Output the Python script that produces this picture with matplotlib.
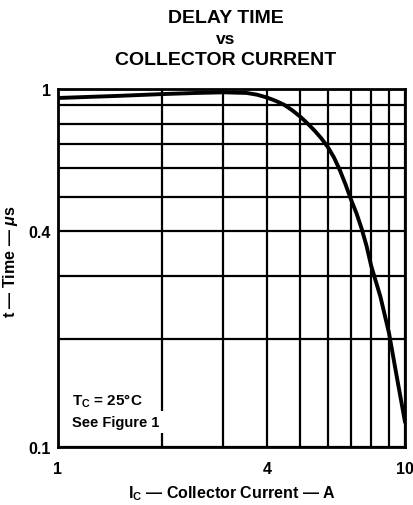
from matplotlib import pyplot as plt
from matplotlib.ticker import FixedLocator, NullFormatter, NullLocator

# curve (collector current in A, delay time in us)
current = [1.0, 1.5, 2.0, 2.5, 3.0, 3.5, 3.75, 4.0, 4.25, 4.5, 4.75, 5.0, 5.25, 5.5, 5.75, 6.0,
           6.25, 6.5, 6.75, 7.0, 7.25, 7.5, 7.75, 8.0, 8.5, 9.0, 9.5, 10.0]
delay = [0.944, 0.957, 0.968, 0.975, 0.979, 0.975, 0.964, 0.947, 0.926, 0.902, 0.870, 0.836, 0.800, 0.764,
         0.727, 0.688, 0.643, 0.592, 0.540, 0.490, 0.450, 0.408, 0.365, 0.320, 0.263, 0.208, 0.155, 0.118]

x_grid = [1, 2, 3, 4, 5, 6, 7, 8, 9, 10]
y_grid = [0.1, 0.2, 0.3, 0.4, 0.5, 0.6, 0.7, 0.8, 0.9, 1.0]
x_labels = {1: "1", 4: "4", 10: "10"}
y_labels = {0.1: "0.1", 0.4: "0.4", 1.0: "1"}

plt.rcParams["font.family"] = ["Liberation Sans", "DejaVu Sans"]
plt.rcParams["font.weight"] = "bold"
plt.rcParams["mathtext.fontset"] = "custom"
plt.rcParams["mathtext.rm"] = "Liberation Sans:bold"
plt.rcParams["mathtext.it"] = "Liberation Sans:bold:italic"

fig = plt.figure(figsize=(4.14, 5.06), dpi=100)
ax = fig.add_axes([0.140, 0.1146, 0.838, 0.7075])

ax.set_xscale("log")
ax.set_yscale("log")
ax.set_xlim(1, 10)
ax.set_ylim(0.1, 1)

for xv in x_grid:
    ax.axvline(xv, color="black", lw=1.6, zorder=1)
for yv in y_grid:
    ax.axhline(yv, color="black", lw=1.6, zorder=1)

ax.plot(current, delay, color="black", lw=2.8, zorder=3, solid_joinstyle="round")

ax.xaxis.set_major_locator(FixedLocator(list(x_labels)))
ax.xaxis.set_minor_locator(NullLocator())
ax.xaxis.set_minor_formatter(NullFormatter())
ax.set_xticklabels(list(x_labels.values()))
ax.yaxis.set_major_locator(FixedLocator(list(y_labels)))
ax.yaxis.set_minor_locator(NullLocator())
ax.yaxis.set_minor_formatter(NullFormatter())
ax.set_yticklabels(list(y_labels.values()))
ax.tick_params(axis="x", length=0, labelsize=11.5, pad=10)
ax.tick_params(axis="y", length=0, labelsize=11.5, pad=5)
for lab in ax.get_xticklabels() + ax.get_yticklabels():
    lab.set_fontweight("bold")

for sp in ax.spines.values():
    sp.set_linewidth(2)

ax.text(1.1, 0.131, "T$_\\mathregular{C}$ = 25\u00b0C", fontsize=11, fontweight="bold",
        va="baseline", ha="left", zorder=4,
        bbox=dict(facecolor="white", edgecolor="none", pad=2))
ax.text(1.1, 0.1145, "See Figure 1", fontsize=10.5, fontweight="bold",
        va="baseline", ha="left", zorder=4,
        bbox=dict(facecolor="white", edgecolor="none", pad=3))

ax.set_xlabel("I$_\\mathregular{C}$ \u2014 Collector Current \u2014 A",
              fontsize=11.5, fontweight="bold", labelpad=5)
ax.set_ylabel("t \u2014 Time \u2014 $\\mu$s", fontsize=11.5, fontweight="bold")
ax.yaxis.set_label_coords(-0.11, 0.52)

fig.text(0.545, 0.964, "DELAY TIME", ha="center", va="center", fontsize=14, fontweight="bold")
fig.text(0.545, 0.922, "vs", ha="center", va="center", fontsize=12.5, fontweight="bold")
fig.text(0.545, 0.880, "COLLECTOR CURRENT", ha="center", va="center", fontsize=14, fontweight="bold")

plt.savefig("out.png", dpi=100)
